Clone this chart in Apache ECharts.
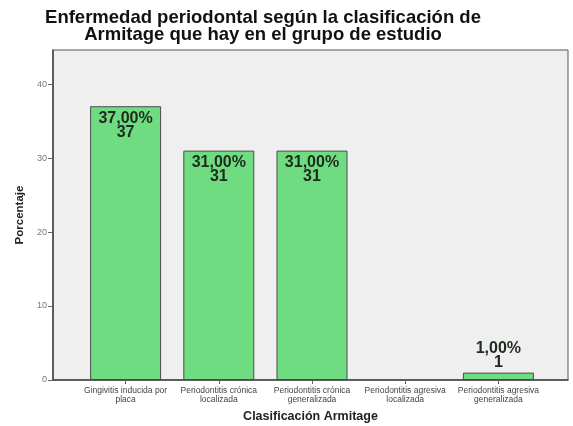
<!DOCTYPE html>
<html><head><meta charset="utf-8">
<script src="https://cdn.jsdelivr.net/npm/echarts@6/dist/echarts.min.js"></script>
<style>html,body{margin:0;padding:0;background:#fff}#c{width:573px;height:426px}</style>
</head><body><div id="c"></div>
<script>
const categories = ["Gingivitis inducida por\nplaca","Periodontitis crónica\nlocalizada","Periodontitis crónica\ngeneralizada","Periodontitis agresiva\nlocalizada","Periodontitis agresiva\ngeneralizada"];
const percentages = [37, 31, 31, 0, 1];
const counts = [37, 31, 31, 0, 1];
const yTicks = [0, 10, 20, 30, 40];

const chart = echarts.init(document.getElementById('c'));
const font = 'Liberation Sans, Arial, sans-serif';
const fmt = v => v.toFixed(2).replace('.', ',') + '%';
const seriesData = percentages.map((p, i) => ({
  value: p,
  itemStyle: p > 0 ? {} : {borderWidth: 0, opacity: 0},
  label: p > 5 ? {position: 'insideTop', distance: 5} : {position: 'top', distance: 3}
}));
chart.setOption({
  animation: false,
  title: {
    text: 'Enfermedad periodontal según la clasificación de\nArmitage que hay en el grupo de estudio',
    left: 258, top: 4, textAlign: 'center',
    textStyle: {fontFamily: font, fontWeight: 'bold', fontSize: 18.5, lineHeight: 17, color: '#111'}
  },
  grid: [
    {left: 53, right: 5, top: 50, bottom: 46, outerBoundsMode: 'none', containLabel: false, show: true, backgroundColor: '#efefef', borderColor: '#555', borderWidth: 1},
    {left: 79, right: 28, top: 50, bottom: 46, outerBoundsMode: 'none', containLabel: false}
  ],
  xAxis: [
    {gridIndex: 0, type: 'value', min: 0, max: 1, axisLine: {show: true, lineStyle: {color: '#444', width: 1.5}}, axisTick: {show: false}, axisLabel: {show: false}, splitLine: {show: false},
     name: 'Clasificación Armitage', nameLocation: 'middle', nameGap: 30,
     nameTextStyle: {fontFamily: font, fontWeight: 'bold', fontSize: 12.5, color: '#222'}},
    {gridIndex: 1, type: 'category', data: categories, axisLine: {show: false},
     axisTick: {show: true, alignWithLabel: true, length: 4, lineStyle: {color: '#666'}},
     axisLabel: {fontFamily: font, fontSize: 8.5, lineHeight: 9, color: '#444', interval: 0, margin: 6}}
  ],
  yAxis: [
    {gridIndex: 0, type: 'value', min: 0, max: 44.6, interval: 10,
     axisLine: {show: true, lineStyle: {color: '#444', width: 1.5}},
     axisTick: {show: true, length: 5, lineStyle: {color: '#666'}},
     axisLabel: {fontFamily: font, fontSize: 9, color: '#777', margin: 6, showMaxLabel: false,
       formatter: v => yTicks.includes(v) ? String(v) : ''},
     splitLine: {show: false},
     name: 'Porcentaje', nameLocation: 'middle', nameGap: 25, nameRotate: 90,
     nameTextStyle: {fontFamily: font, fontWeight: 'bold', fontSize: 11.5, color: '#222'}},
    {gridIndex: 1, type: 'value', min: 0, max: 44.6, show: false}
  ],
  series: [{
    type: 'bar', xAxisIndex: 1, yAxisIndex: 1, data: seriesData, barWidth: 71,
    itemStyle: {color: '#6fdc82', borderColor: '#4a4a4a', borderWidth: 1},
    label: {show: true, fontFamily: font, fontWeight: 'bold', fontSize: 16, lineHeight: 14, color: '#1e2a1e',
      formatter: p => p.value > 0 ? fmt(p.value) + '\n' + counts[p.dataIndex] : ''}
  }]
});
</script></body></html>
